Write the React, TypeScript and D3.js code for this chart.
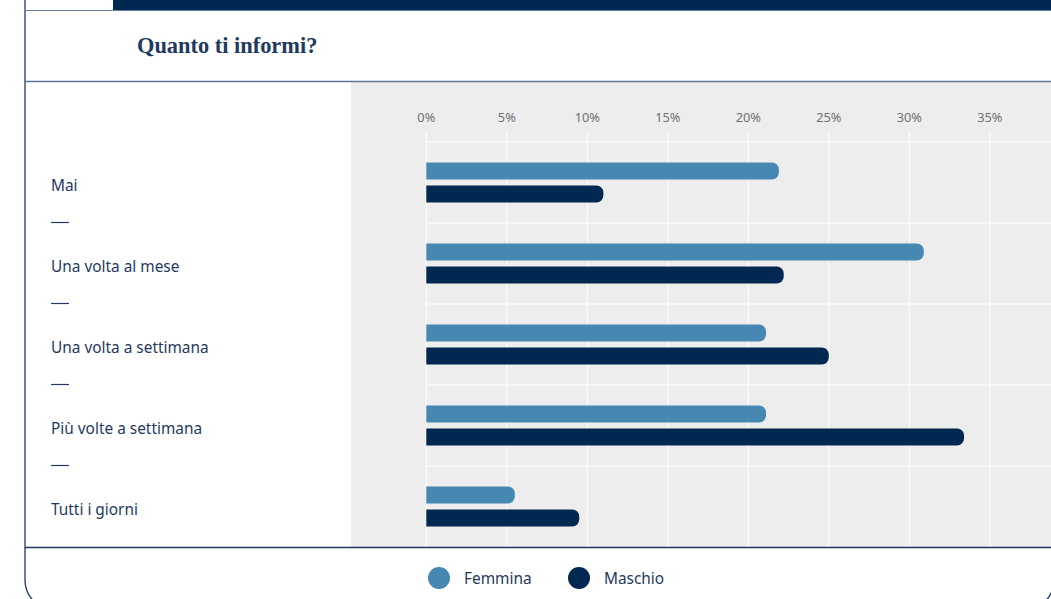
import React, { useEffect, useRef } from 'react';
import * as d3 from 'd3';

const categories = ['Mai', 'Una volta al mese', 'Una volta a settimana', 'Più volte a settimana', 'Tutti i giorni'];
const seriesNames = ['Femmina', 'Maschio'];
const femmina = [21.9, 30.9, 21.1, 21.1, 5.5];
const maschio = [11.0, 22.2, 25.0, 33.4, 9.5];
const gridValues = [0, 5, 10, 15, 20, 25, 30, 35, 40];
const tickLabels = ['0%', '5%', '10%', '15%', '20%', '25%', '30%', '35%'];

const W = 1051;
const H = 599;
const NAVY = '#012850';
const LIGHT = '#4688b1';
const TEXT = '#1f3960';
const colors = [LIGHT, NAVY];

// bar with square left end and rounded right end
const barPath = (x0: number, x1: number, y: number, h: number, r: number) => {
  const rr = Math.min(r, (x1 - x0) / 2, h / 2);
  return `M${x0},${y}H${x1 - rr}A${rr},${rr} 0 0 1 ${x1},${y + rr}V${y + h - rr}A${rr},${rr} 0 0 1 ${x1 - rr},${y + h}H${x0}Z`;
};

const App: React.FC = () => {
  const svgRef = useRef<SVGSVGElement | null>(null);

  useEffect(() => {
    if (!svgRef.current) return;
    const svg = d3.select(svgRef.current);
    svg.selectAll('*').remove();

    const font = '"Noto Sans", Lato, sans-serif';

    // card
    svg.append('rect')
      .attr('x', 25).attr('y', -40).attr('width', 1029).attr('height', 650)
      .attr('rx', 30).attr('fill', '#fff').attr('stroke', '#1f3960').attr('stroke-width', 1.3);

    // top bar
    svg.append('rect').attr('x', 113).attr('y', 0).attr('width', W - 113).attr('height', 10).attr('fill', NAVY);
    svg.append('line').attr('x1', 25).attr('x2', W).attr('y1', 10.5).attr('y2', 10.5)
      .attr('stroke', '#6a7f9c').attr('stroke-width', 1.2);

    // title
    svg.append('text')
      .attr('x', 137).attr('y', 53)
      .style('font-family', '"Liberation Serif", serif')
      .style('font-weight', 700)
      .style('font-size', '22.4px')
      .attr('fill', TEXT)
      .text('Quanto ti informi?');

    // plot background
    svg.append('rect').attr('x', 351).attr('y', 82).attr('width', W - 351).attr('height', 465).attr('fill', '#ededed');

    svg.append('line').attr('x1', 25).attr('x2', W).attr('y1', 81.5).attr('y2', 81.5)
      .attr('stroke', '#5d7393').attr('stroke-width', 1.5);

    const x = d3.scaleLinear().domain([0, 40]).range([426.3, 426.3 + 16.1 * 40]);
    const y = d3.scaleBand<string>().domain(categories).range([142, 547]);
    const bh = 17;
    const gap = 6;
    const off = (y.bandwidth() - (bh * 2 + gap)) / 2;

    // vertical gridlines
    svg.append('g').selectAll('line').data(gridValues).enter().append('line')
      .attr('x1', d => x(d)).attr('x2', d => x(d))
      .attr('y1', 132).attr('y2', 547)
      .attr('stroke', '#fff').attr('stroke-width', 1);

    // horizontal separators
    svg.append('g').selectAll('line').data(categories).enter().append('line')
      .attr('x1', x(0)).attr('x2', W)
      .attr('y1', d => (y(d) as number)).attr('y2', d => (y(d) as number))
      .attr('stroke', '#fff').attr('stroke-width', 1.2);

    // tick labels
    svg.append('g').selectAll('text').data(tickLabels).enter().append('text')
      .attr('x', (d, i) => x(gridValues[i])).attr('y', 122)
      .attr('text-anchor', 'middle')
      .style('font-family', font).style('font-size', '12.8px')
      .attr('fill', '#707070')
      .text(d => d);

    // category labels + dashes
    const lab = svg.append('g');
    categories.forEach((c, i) => {
      const yc = (y(c) as number) + y.bandwidth() / 2;
      lab.append('text')
        .attr('x', 51).attr('y', yc + 8)
        .style('font-family', font).style('font-size', '15.4px')
        .attr('fill', TEXT)
        .text(c);
      if (i < categories.length - 1) {
        lab.append('line')
          .attr('x1', 51).attr('x2', 69)
          .attr('y1', (y(c) as number) + y.bandwidth() - 0.5).attr('y2', (y(c) as number) + y.bandwidth() - 0.5)
          .attr('stroke', TEXT).attr('stroke-width', 1.2);
      }
    });

    // bars
    const series = [femmina, maschio];
    series.forEach((vals, si) => {
      svg.append('g').selectAll('path').data(vals).enter().append('path')
        .attr('d', (v, i) => barPath(x(0), x(v), (y(categories[i]) as number) + off + si * (bh + gap), bh, 7))
        .attr('fill', colors[si]);
    });

    // bottom separator
    svg.append('line').attr('x1', 25).attr('x2', W).attr('y1', 547.5).attr('y2', 547.5)
      .attr('stroke', '#1f3960').attr('stroke-width', 1.5);

    // legend
    const legendX = [439, 579];
    seriesNames.forEach((n, i) => {
      svg.append('circle').attr('cx', legendX[i]).attr('cy', 578).attr('r', 11).attr('fill', colors[i]);
      svg.append('text')
        .attr('x', legendX[i] + 25).attr('y', 584)
        .style('font-family', font).style('font-size', '15.4px')
        .attr('fill', TEXT)
        .text(n);
    });
  }, []);

  return (
    <div style={{ position: 'absolute', left: 0, top: 0, width: W, height: H, overflow: 'hidden', background: '#fff' }}>
      <svg ref={svgRef} width={W} height={H} style={{ display: 'block' }}></svg>
    </div>
  );
};

export default App;
